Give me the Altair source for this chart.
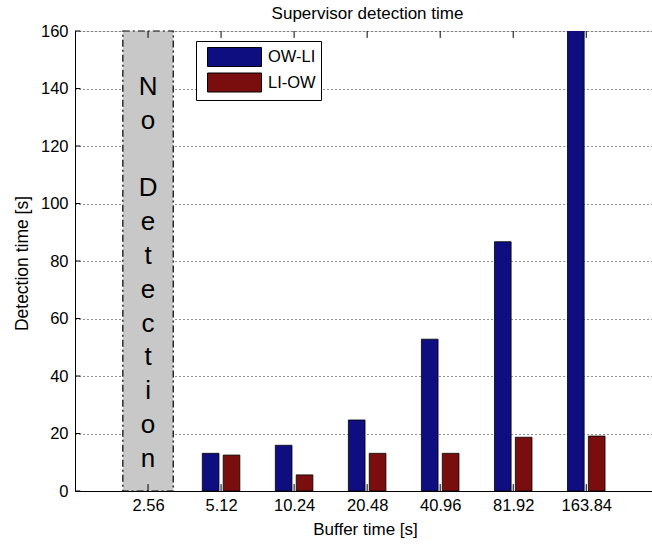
import altair as alt
import pandas as pd

# ---- data ----
categories = ["2.56", "5.12", "10.24", "20.48", "40.96", "81.92", "163.84"]
series = ["OW-LI", "LI-OW"]
ow_li = [None, 13.1, 15.9, 24.7, 52.8, 86.7, 170.0]
li_ow = [None, 12.5, 5.6, 13.1, 13.1, 18.7, 19.1]
y_ticks = [0, 20, 40, 60, 80, 100, 120, 140, 160]
no_detection_category = "2.56"
no_detection_words = ["No", "Detection"]

# ---- style ----
colors = ["#0e0e80", "#7a0e0e"]
FONT = "Liberation Sans"
bar_offsets = [-0.143, 0.143]
bar_half = 0.114
x_max = 7.9
y_max = y_ticks[-1]
letter_step = 33.8 / 2.875   # one line of vertical text, in data units
first_letter_y = 140.5

positions = {c: i + 1 for i, c in enumerate(categories)}

bar_rows = []
for s_name, vals, off in zip(series, [ow_li, li_ow], bar_offsets):
    for c, v in zip(categories, vals):
        if v is None:
            continue
        p = positions[c]
        bar_rows.append({"series": s_name, "x": p + off - bar_half, "x2": p + off + bar_half,
                         "y": 0, "y2": v})
bars_df = pd.DataFrame(bar_rows)

nd_pos = positions[no_detection_category]
nd_df = pd.DataFrame([{"x": nd_pos - 0.345, "x2": nd_pos + 0.345, "y": 0, "y2": y_max}])
text_rows = []
line = 0
for w in no_detection_words:
    text_rows.append({"x": nd_pos, "y": first_letter_y - line * letter_step, "t": "\n".join(w)})
    line += len(w) + 1
nd_text_df = pd.DataFrame(text_rows)

xtick_bottom = pd.DataFrame([{"x": positions[c], "y": 0, "y2": 2.4} for c in categories])
xtick_top = pd.DataFrame([{"x": positions[c], "y": y_max, "y2": y_max - 2.4} for c in categories])
ytick_df = pd.DataFrame([{"x": 0, "x2": 0.075, "y": t} for t in y_ticks])

label_expr = "[" + ",".join("'%s'" % c for c in categories) + "][datum.value - 1]"

xs = alt.Scale(domain=[0, x_max], nice=False, zero=False)
ys = alt.Scale(domain=[0, y_max], nice=False, zero=False)

x_axis = alt.Axis(
    values=list(range(1, len(categories) + 1)), labelExpr=label_expr, title="Buffer time [s]",
    grid=False, ticks=False, tickSize=0, labelPadding=6, labelFont=FONT, labelFontSize=16.5,
    labelColor="black", domainColor="black", domainWidth=1, titleFont=FONT, titleFontSize=17,
    titleFontWeight="normal", titleColor="black", titleX=290, titleY=38, titleBaseline="middle",
    titleAlign="center", labelFlush=False, labelOverlap=False,
)
y_axis = alt.Axis(
    values=y_ticks, title="Detection time [s]", grid=True, gridColor="black", gridDash=[1, 3],
    gridOpacity=0.85, gridWidth=1, ticks=False, tickSize=0, labelPadding=7, labelFont=FONT,
    labelFontSize=16.5, labelColor="black", domainColor="black", domainWidth=1, titleFont=FONT,
    titleFontSize=17.5, titleFontWeight="normal", titleColor="black", titleX=-53, titleY=232,
    titleAngle=270, titleAlign="center", titleBaseline="middle", labelFlush=False,
)

X = alt.X("x:Q", scale=xs, axis=x_axis)
Y = alt.Y("y:Q", scale=ys, axis=y_axis)

nd_rect = alt.Chart(nd_df).mark_rect(
    fill="#c8c8c8", stroke="black", strokeWidth=1.2, strokeDash=[7, 3, 2, 3]
).encode(x=X, x2="x2:Q", y=Y, y2="y2:Q")

nd_text = alt.Chart(nd_text_df).mark_text(
    font=FONT, fontSize=26, color="black", lineBreak="\n", lineHeight=33.8,
    align="center", baseline="middle"
).encode(x=X, y=Y, text="t:N")

# legend symbol: wide rectangle drawn around a small nominal symbol size
sym_r = 10.5
half_w = 27.0 / sym_r
half_h = 9.5 / sym_r
sym_path = "M-%.4f,-%.4fH%.4fV%.4fH-%.4fZ" % (half_w, half_h, half_w, half_h, half_w)

bars = alt.Chart(bars_df).mark_rect(stroke="black", strokeWidth=0.8, clip=True).encode(
    x=X, x2="x2:Q", y=Y, y2="y2:Q",
    color=alt.Color(
        "series:N",
        scale=alt.Scale(domain=series, range=colors),
        legend=alt.Legend(
            title=None, orient="none", legendX=121, legendY=10, direction="vertical",
            symbolType=sym_path, symbolSize=(2 * sym_r) ** 2, symbolStrokeColor="black",
            symbolStrokeWidth=1, symbolOpacity=1, labelFont=FONT, labelFontSize=16.5,
            labelColor="black", padding=5, strokeColor="black", fillColor="white",
            rowPadding=1.5, labelOffset=22.5, symbolOffset=22.5,
        ),
    ),
)

tick_b = alt.Chart(xtick_bottom).mark_rule(color="black", strokeWidth=1).encode(x=X, y=Y, y2="y2:Q")
tick_t = alt.Chart(xtick_top).mark_rule(color="black", strokeWidth=1).encode(x=X, y=Y, y2="y2:Q")
tick_y = alt.Chart(ytick_df).mark_rule(color="black", strokeWidth=1).encode(x=X, x2="x2:Q", y=Y)

chart = alt.layer(nd_rect, bars, nd_text, tick_b, tick_t, tick_y).properties(
    width=577, height=460,
    padding={"left": 75, "top": 31, "right": 0, "bottom": 55},
    autosize="none",
    title=alt.TitleParams(
        text="Supervisor detection time", font=FONT, fontSize=17, fontWeight="normal",
        color="black", anchor="middle", dx=4, offset=0,
    ),
).configure_view(stroke=None).configure(background="white")

chart.save("out.html", embed_options={"renderer": "svg", "actions": False})
